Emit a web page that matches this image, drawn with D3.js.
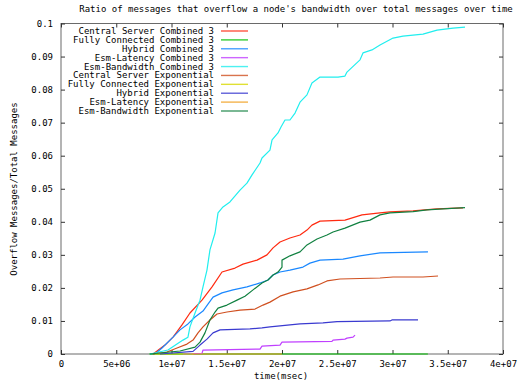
<!DOCTYPE html>
<html>
<head>
<meta charset="utf-8">
<script src="https://cdn.jsdelivr.net/npm/d3@7"></script>
<style>
  html, body { margin: 0; padding: 0; background: #fff; }
  svg { display: block; }
  text { font-family: "DejaVu Sans Mono", "Liberation Mono", monospace; font-size: 9px; fill: #000; }
</style>
</head>
<body>
<svg id="chart" width="524" height="384"></svg>
<script>
// ---------- data ----------
const chartTitle = "Ratio of messages that overflow a node's bandwidth over total messages over time";
const xAxisTitle = "time(msec)";
const yAxisTitle = "Overflow Messages/Total Messages";

const xTickValues = [0, 5e6, 1e7, 1.5e7, 2e7, 2.5e7, 3e7, 3.5e7, 4e7];
const xTickLabels = ["0", "5e+06", "1e+07", "1.5e+07", "2e+07", "2.5e+07", "3e+07", "3.5e+07", "4e+07"];
const yTickValues = [0, 0.01, 0.02, 0.03, 0.04, 0.05, 0.06, 0.07, 0.08, 0.09, 0.1];
const yTickLabels = ["0", "0.01", "0.02", "0.03", "0.04", "0.05", "0.06", "0.07", "0.08", "0.09", "0.1"];

const seriesNames = [
  "Central Server Combined 3",
  "Fully Connected Combined 3",
  "Hybrid Combined 3",
  "Esm-Latency Combined 3",
  "Esm-Bandwidth Combined 3",
  "Central Server Exponential",
  "Fully Connected Exponential",
  "Hybrid Exponential",
  "Esm-Latency Exponential",
  "Esm-Bandwidth Exponential"
];
const seriesColors = ["#ff2a10", "#00c000", "#1a88ff", "#c040ff", "#20eeee",
                      "#d05020", "#d8d800", "#3a3ad0", "#f0a020", "#108040"];

const centralServerCombined = [[8.33e6,0],[9.41e6,0.0027],[10.14e6,0.0051],[10.95e6,0.0088],[11.67e6,0.0124],[12.76e6,0.0163],[13.67e6,0.0203],[14.57e6,0.0248],[15.75e6,0.026],[16.47e6,0.0272],[17.74e6,0.0284],[18.64e6,0.0300],[19.19e6,0.0321],[19.82e6,0.0339],[20.72e6,0.0351],[21.63e6,0.0360],[22.26e6,0.0375],[22.71e6,0.0390],[23.44e6,0.0402],[25.7e6,0.0405],[27.24e6,0.0421],[28.87e6,0.0427],[29.77e6,0.0430],[31.86e6,0.0433],[34.03e6,0.0439],[36.38e6,0.0442]];
const fullyConnectedCombined = [[8.0e6,0],[33.2e6,0]];
const hybridCombined = [[8.51e6,0],[9.14e6,0.0018],[10.14e6,0.0051],[10.77e6,0.0073],[11.49e6,0.0091],[12.13e6,0.0112],[12.85e6,0.0130],[13.3e6,0.0151],[13.76e6,0.0172],[14.57e6,0.0185],[15.57e6,0.0194],[16.83e6,0.0203],[18.01e6,0.0215],[18.73e6,0.0224],[19.19e6,0.0239],[19.82e6,0.0248],[20.72e6,0.0254],[21.9e6,0.0263],[22.53e6,0.0275],[23.44e6,0.0284],[25.52e6,0.0287],[27.06e6,0.0297],[28.87e6,0.0306],[33.21e6,0.0309]];
const esmLatencyCombined = [[11.04e6,0],[12.76e6,0.0002],[12.85e6,0.0012],[18.01e6,0.0015],[18.19e6,0.0024],[19.82e6,0.0027],[20.0e6,0.0036],[24.52e6,0.0038],[24.62e6,0.0042],[25.7e6,0.0045],[25.88e6,0.0048],[26.43e6,0.0051],[26.61e6,0.0057]];
const esmBandwidthCombined = [[8.05e6,0],[9.68e6,0.0012],[11.04e6,0.0042],[11.49e6,0.0051],[11.67e6,0.0082],[12.13e6,0.0124],[12.58e6,0.0163],[12.85e6,0.0203],[13.21e6,0.0254],[13.48e6,0.0315],[13.94e6,0.0366],[14.21e6,0.0427],[14.66e6,0.0445],[15.29e6,0.046],[16.2e6,0.0496],[16.83e6,0.0517],[17.29e6,0.0542],[18.01e6,0.0578],[18.19e6,0.0593],[18.91e6,0.0617],[19.1e6,0.0648],[19.64e6,0.0669],[19.91e6,0.0687],[20.27e6,0.0708],[20.72e6,0.0708],[21.18e6,0.0729],[21.63e6,0.0762],[22.26e6,0.0784],[22.71e6,0.082],[23.44e6,0.0838],[25.07e6,0.0838],[25.7e6,0.0841],[25.88e6,0.0853],[27.06e6,0.089],[27.33e6,0.0911],[28.14e6,0.092],[28.87e6,0.0935],[30.05e6,0.0956],[30.95e6,0.0962],[32.76e6,0.0968],[34.03e6,0.098],[35.48e6,0.0986],[36.56e6,0.0989]];
const centralServerExp = [[8.33e6,0],[9.59e6,0.0006],[10.5e6,0.0018],[11.4e6,0.003],[11.95e6,0.0042],[12.4e6,0.0064],[12.85e6,0.0082],[13.48e6,0.0103],[14.12e6,0.0121],[15.02e6,0.0127],[16.2e6,0.0133],[17.56e6,0.0136],[18.28e6,0.0148],[18.91e6,0.0157],[19.82e6,0.0175],[21.0e6,0.0188],[22.26e6,0.0197],[23.26e6,0.0209],[24.07e6,0.0221],[25.25e6,0.0227],[28.87e6,0.0230],[30.05e6,0.0233],[32.76e6,0.0233],[34.12e6,0.0236]];
const fullyConnectedExp = [[8.5e6,0],[12.0e6,0]];
const hybridExp = [[8.96e6,0],[11.95e6,0.0008],[12.58e6,0.0027],[13.21e6,0.0045],[13.76e6,0.0064],[14.39e6,0.0073],[17.1e6,0.0076],[18.19e6,0.0079],[18.91e6,0.0082],[20.72e6,0.0088],[21.63e6,0.0091],[23.71e6,0.0094],[24.98e6,0.0098],[29.77e6,0.0100],[29.95e6,0.0103],[32.31e6,0.0103]];
const esmLatencyExp = [[11.86e6,0],[20.0e6,0]];
const esmBandwidthExp = [[8.05e6,0],[10.77e6,0.0009],[12.13e6,0.0021],[12.58e6,0.0036],[13.03e6,0.0064],[13.48e6,0.0103],[13.94e6,0.0127],[14.21e6,0.0139],[15.02e6,0.0148],[15.93e6,0.0163],[16.65e6,0.0175],[17.38e6,0.0194],[18.19e6,0.0215],[18.73e6,0.0224],[19.19e6,0.0239],[19.64e6,0.0248],[20.0e6,0.0263],[20.0e6,0.0284],[20.72e6,0.0297],[21.63e6,0.0309],[22.26e6,0.0330],[23.17e6,0.0348],[24.07e6,0.0360],[24.62e6,0.0369],[25.7e6,0.0381],[27.06e6,0.0399],[27.96e6,0.0405],[28.87e6,0.0421],[29.77e6,0.0427],[31.86e6,0.0431],[33.12e6,0.0436],[34.57e6,0.0439],[36.56e6,0.0443]];

const seriesValues = [centralServerCombined, fullyConnectedCombined, hybridCombined, esmLatencyCombined,
  esmBandwidthCombined, centralServerExp, fullyConnectedExp, hybridExp, esmLatencyExp, esmBandwidthExp];

// ---------- layout ----------
const svg = d3.select("#chart");
const plot = { left: 61, right: 503, top: 23.5, bottom: 354 };

const x = d3.scaleLinear().domain([0, 4e7]).range([plot.left, plot.right]);
const y = d3.scaleLinear().domain([0, 0.1]).range([plot.bottom, plot.top]);

// frame
svg.append("rect")
  .attr("x", plot.left).attr("y", plot.top)
  .attr("width", plot.right - plot.left).attr("height", plot.bottom - plot.top)
  .attr("fill", "none").attr("stroke", "#6a6a6a").attr("stroke-width", 1);

function styleAxis(g) {
  g.select(".domain").remove();
  g.selectAll(".tick line").attr("stroke", "#333");
  g.selectAll(".tick text").attr("fill", "#000").style("font-family", "DejaVu Sans Mono, monospace").style("font-size", "9px");
}

svg.append("g").attr("transform", `translate(0,${plot.bottom})`)
  .call(d3.axisBottom(x).tickValues(xTickValues).tickFormat((d, i) => xTickLabels[i]).tickSizeInner(-4).tickSizeOuter(0).tickPadding(7))
  .call(styleAxis);
svg.append("g").attr("transform", `translate(0,${plot.top})`)
  .call(d3.axisTop(x).tickValues(xTickValues).tickFormat("").tickSizeInner(-4).tickSizeOuter(0))
  .call(styleAxis);
svg.append("g").attr("transform", `translate(${plot.left},0)`)
  .call(d3.axisLeft(y).tickValues(yTickValues).tickFormat((d, i) => yTickLabels[i]).tickSizeInner(-4).tickSizeOuter(0).tickPadding(8))
  .call(styleAxis);
svg.append("g").attr("transform", `translate(${plot.right},0)`)
  .call(d3.axisRight(y).tickValues(yTickValues).tickFormat("").tickSizeInner(-4).tickSizeOuter(0))
  .call(styleAxis);

// titles
svg.append("text").attr("x", 296).attr("y", 12).attr("text-anchor", "middle").text(chartTitle);
svg.append("text").attr("x", 281).attr("y", 379).attr("text-anchor", "middle").text(xAxisTitle);
svg.append("text").attr("transform", "translate(17,189) rotate(-90)").attr("text-anchor", "middle").text(yAxisTitle);

// lines
const line = d3.line().x(d => x(d[0])).y(d => y(d[1]));
svg.append("g").selectAll("path").data(seriesValues).join("path")
  .attr("d", d => line(d))
  .attr("fill", "none")
  .attr("stroke", (d, i) => seriesColors[i])
  .attr("stroke-width", 1.2)
  .attr("stroke-linejoin", "round");

// legend
const legend = svg.append("g");
const legendY = d3.scaleLinear().domain([0, 9]).range([31, 111]);
seriesNames.forEach((name, i) => {
  const yy = legendY(i);
  legend.append("text").attr("x", 214).attr("y", yy + 3).attr("text-anchor", "end").text(name);
  legend.append("line").attr("x1", 221).attr("x2", 248).attr("y1", yy).attr("y2", yy)
    .attr("stroke", seriesColors[i]).attr("stroke-width", 1.4).attr("stroke-opacity", 0.8);
});
</script>
</body>
</html>
